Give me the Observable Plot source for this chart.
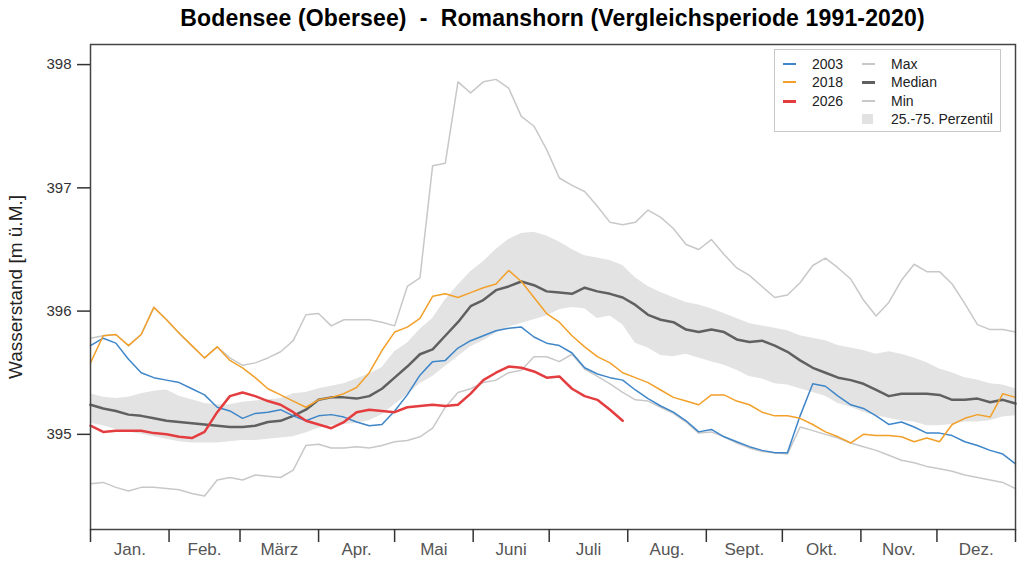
<!DOCTYPE html>
<html><head><meta charset="utf-8">
<script src="https://cdn.jsdelivr.net/npm/d3@7"></script>
<script src="https://cdn.jsdelivr.net/npm/@observablehq/plot@0.6"></script>
<style>
body{margin:0;background:#fff;font-family:"Liberation Sans",Arial,Helvetica,sans-serif;}
#wrap{position:relative;width:1024px;height:576px;overflow:hidden;background:#fff}
#title{height:36px;line-height:36px;width:925px;margin-left:90px;text-align:center;font-weight:bold;font-size:23px;letter-spacing:0.15px;white-space:pre;color:#000}
#legend{position:absolute;left:774px;top:49px;width:227px;height:83px;border:1px solid #c8c8c8;background:#fff;box-sizing:border-box}
.lg{position:absolute;font-size:14px;color:#222;line-height:16px;white-space:pre}
.sw{position:absolute}
svg{display:block}
</style></head>
<body><div id="wrap"><div id="title">Bodensee (Obersee)  -  Romanshorn (Vergleichsperiode 1991-2020)</div><div id="chart"></div><div id="legend"></div></div>
<script>
const days = [0,5,10,15,20,25,30,35,40,45,50,55,60,65,70,75,80,85,90,95,100,105,110,115,120,125,130,135,140,145,150,155,160,165,170,175,180,185,190,195,200,205,210,215,220,225,230,235,240,245,250,255,260,265,270,275,280,285,290,295,300,305,310,315,320,325,330,335,340,345,350,355,360,365];

const median = [395.24,395.21,395.19,395.16,395.15,395.13,395.11,395.10,395.09,395.08,
395.07,395.06,395.06,395.07,395.10,395.11,395.15,395.20,395.28,395.30,
395.30,395.29,395.31,395.37,395.46,395.55,395.65,395.69,395.80,395.91,
396.04,396.09,396.17,396.20,396.24,396.21,396.16,396.15,396.14,396.19,
396.16,396.14,396.11,396.05,395.97,395.93,395.91,395.85,395.83,395.85,
395.83,395.77,395.75,395.76,395.72,395.67,395.60,395.54,395.50,395.46,
395.44,395.41,395.36,395.31,395.33,395.33,395.33,395.32,395.28,395.28,
395.29,395.26,395.28,395.25];

const p75 = [395.33,395.30,395.29,395.30,395.33,395.35,395.36,395.31,395.28,395.25,
395.24,395.24,395.26,395.27,395.28,395.29,395.33,395.34,395.37,395.39,
395.41,395.45,395.49,395.54,395.67,395.74,395.85,395.94,396.09,396.21,
396.32,396.40,396.50,396.58,396.63,396.64,396.61,396.56,396.50,396.45,
396.43,396.41,396.37,396.27,396.20,396.15,396.11,396.07,396.05,396.02,
395.98,395.94,395.90,395.88,395.86,395.84,395.80,395.78,395.76,395.72,
395.70,395.68,395.65,395.67,395.65,395.62,395.58,395.53,395.50,395.46,
395.44,395.41,395.40,395.37];

const p25 = [395.09,395.07,395.04,395.02,395.00,394.98,394.96,394.94,394.93,394.93,
394.93,394.94,394.95,394.95,394.96,394.97,394.98,395.01,395.05,395.07,
395.08,395.09,395.11,395.16,395.24,395.32,395.41,395.47,395.55,395.63,
395.71,395.76,395.82,395.87,395.90,395.93,395.96,396.01,396.03,396.02,
395.94,395.96,395.89,395.74,395.70,395.64,395.63,395.65,395.62,395.59,
395.56,395.52,395.47,395.45,395.41,395.40,395.37,395.34,395.31,395.25,
395.22,395.18,395.15,395.13,395.11,395.10,395.07,395.07,395.08,395.10,
395.10,395.11,395.14,395.15];

const maxv = [395.78,395.80,395.81,395.72,395.81,396.03,395.93,395.82,395.72,395.62,
395.71,395.62,395.56,395.58,395.62,395.67,395.76,395.97,395.98,395.88,
395.93,395.93,395.93,395.91,395.88,396.20,396.27,397.18,397.20,397.86,
397.77,397.86,397.88,397.81,397.58,397.50,397.31,397.08,397.02,396.97,
396.85,396.72,396.70,396.72,396.82,396.76,396.67,396.54,396.50,396.58,
396.46,396.35,396.29,396.20,396.11,396.13,396.23,396.37,396.43,396.35,
396.26,396.09,395.96,396.07,396.25,396.38,396.32,396.32,396.22,396.06,
395.89,395.85,395.85,395.83];

const minv = [394.60,394.61,394.57,394.54,394.57,394.57,394.56,394.55,394.52,394.50,
394.63,394.65,394.63,394.67,394.66,394.65,394.71,394.91,394.92,394.89,
394.89,394.90,394.89,394.91,394.94,394.95,394.98,395.05,395.22,395.34,
395.37,395.42,395.44,395.50,395.52,395.63,395.63,395.59,395.65,395.53,
395.47,395.41,395.34,395.28,395.27,395.22,395.17,395.10,395.01,395.02,
394.98,394.93,394.89,394.86,394.85,394.84,395.06,395.03,395.00,394.97,
394.93,394.90,394.87,394.83,394.79,394.77,394.74,394.72,394.70,394.67,
394.65,394.63,394.61,394.56];

const y2003 = [395.72,395.78,395.74,395.61,395.50,395.46,395.44,395.42,395.37,395.32,
395.22,395.19,395.13,395.17,395.18,395.20,395.15,395.11,395.15,395.16,
395.14,395.10,395.07,395.08,395.19,395.32,395.48,395.59,395.60,395.70,
395.76,395.80,395.84,395.86,395.87,395.79,395.74,395.72,395.66,395.54,
395.49,395.46,395.44,395.36,395.29,395.23,395.18,395.11,395.02,395.04,
394.98,394.94,394.90,394.87,394.85,394.85,395.15,395.41,395.39,395.31,
395.24,395.21,395.15,395.08,395.10,395.06,395.01,395.01,394.99,394.94,
394.91,394.87,394.84,394.76];

const y2018 = [395.58,395.80,395.81,395.72,395.81,396.03,395.93,395.82,395.72,395.62,
395.71,395.60,395.54,395.46,395.37,395.32,395.27,395.22,395.28,395.30,
395.33,395.38,395.50,395.68,395.83,395.87,395.94,396.12,396.14,396.11,
396.15,396.19,396.22,396.33,396.24,396.11,395.98,395.91,395.80,395.71,
395.63,395.58,395.50,395.46,395.42,395.36,395.30,395.27,395.24,395.32,
395.32,395.27,395.24,395.18,395.15,395.15,395.13,395.08,395.02,394.98,
394.93,395.00,394.99,394.99,394.98,394.94,394.97,394.94,395.08,395.13,
395.16,395.14,395.33,395.30];

const y2026 = [395.07,395.02,395.03,395.03,395.03,395.01,395.00,394.98,394.97,395.02,
395.18,395.31,395.34,395.31,395.27,395.24,395.18,395.11,395.08,395.05,
395.10,395.18,395.20,395.19,395.18,395.22,395.23,395.24,395.23,395.24,
395.33,395.44,395.50,395.55,395.54,395.51,395.46,395.47,395.37,395.31,
395.28,395.20,395.11];

const monthStarts = [0,31,59,90,120,151,181,212,243,273,304,334,365];
const monthLabels = ["Jan.","Feb.","März","Apr.","Mai","Juni","Juli","Aug.","Sept.","Okt.","Nov.","Dez."];
const yTicks = [395,396,397,398];

const legendLabels = ["2003","2018","2026","Max","Median","Min","25.-75. Perzentil"];
const legendColors = ["#3f86c9","#f2a02a","#e43d40","#c8c8c8","#606060","#c8c8c8","#e2e2e2"];

const C = {c2003:"#3f86c9", c2018:"#f2a02a", c2026:"#e43d40", med:"#606060", ext:"#c8c8c8", band:"#e3e3e3"};

const rows = days.map((d,i) => ({day:d, median:median[i], p25:p25[i], p75:p75[i], max:maxv[i], min:minv[i], y2003:y2003[i], y2018:y2018[i]}));
const rows2026 = y2026.map((v,i) => ({day:days[i], v}));
const mids = monthLabels.map((_,i) => (monthStarts[i]+monthStarts[i+1])/2);
const labelMap = new Map(mids.map((m,i)=>[m, monthLabels[i]]));

const plot = Plot.plot({
  width: 1024, height: 540,
  marginTop: 8, marginBottom: 47, marginLeft: 90, marginRight: 9,
  x: {domain: [0, 365], label: null},
  y: {domain: [394.228, 398.163], label: null},
  style: {fontFamily: '"Liberation Sans", Arial, sans-serif', background: "white", overflow: "visible"},
  marks: [
    Plot.areaY(rows, {x: "day", y1: "p25", y2: "p75", fill: C.band}),
    Plot.lineY(rows, {x: "day", y: "max", stroke: C.ext, strokeWidth: 1.5}),
    Plot.lineY(rows, {x: "day", y: "min", stroke: C.ext, strokeWidth: 1.5}),
    Plot.lineY(rows, {x: "day", y: "median", stroke: C.med, strokeWidth: 2.5}),
    Plot.lineY(rows, {x: "day", y: "y2003", stroke: C.c2003, strokeWidth: 1.5}),
    Plot.lineY(rows, {x: "day", y: "y2018", stroke: C.c2018, strokeWidth: 1.5}),
    Plot.lineY(rows2026, {x: "day", y: "v", stroke: C.c2026, strokeWidth: 2.5}),
    Plot.frame({stroke: "#444", strokeWidth: 1.5}),
    Plot.axisX(monthStarts, {tickSize: 13, tickFormat: () => "", stroke: "#333", strokeWidth: 1.5}),
    Plot.axisX(mids, {tickSize: 0, tickPadding: 13, tickFormat: d => labelMap.get(d), fontSize: 17, fill: "#555"}),
    Plot.axisY(yTicks, {tickSize: 13, tickPadding: 6, fontSize: 15, stroke: "#333", fill: "#333", strokeWidth: 1.5, tickFormat: d => String(d)}),
    Plot.text(["Wasserstand [m ü.M.]"], {text: d => d, frameAnchor: "left", dx: -75, rotate: -90, textAnchor: "middle", fontSize: 19, fill: "#222"})
  ]
});
document.getElementById("chart").appendChild(plot);

// legend (positions relative to wrap)
const wrap = document.getElementById("wrap");
const rowY = [64, 82, 101, 64, 82, 101, 119];
legendLabels.forEach((lab, i) => {
  const col = i < 3 ? 0 : 1;
  const sx = col === 0 ? 783 : 862;
  const tx = col === 0 ? 812 : 891;
  const sw = document.createElement("div");
  sw.className = "sw";
  if (i === 6) {
    sw.style.cssText = `left:${sx}px;top:${rowY[i]-5}px;width:11px;height:10px;background:${legendColors[i]}`;
  } else {
    const h = (i === 2 || i === 4) ? 3 : 2;
    sw.style.cssText = `left:${sx}px;top:${rowY[i]-Math.floor(h/2)}px;width:13px;height:${h}px;background:${legendColors[i]}`;
  }
  wrap.appendChild(sw);
  const t = document.createElement("div");
  t.className = "lg";
  t.textContent = lab;
  t.style.left = tx + "px";
  t.style.top = (rowY[i] - 8) + "px";
  wrap.appendChild(t);
});
</script></body></html>
